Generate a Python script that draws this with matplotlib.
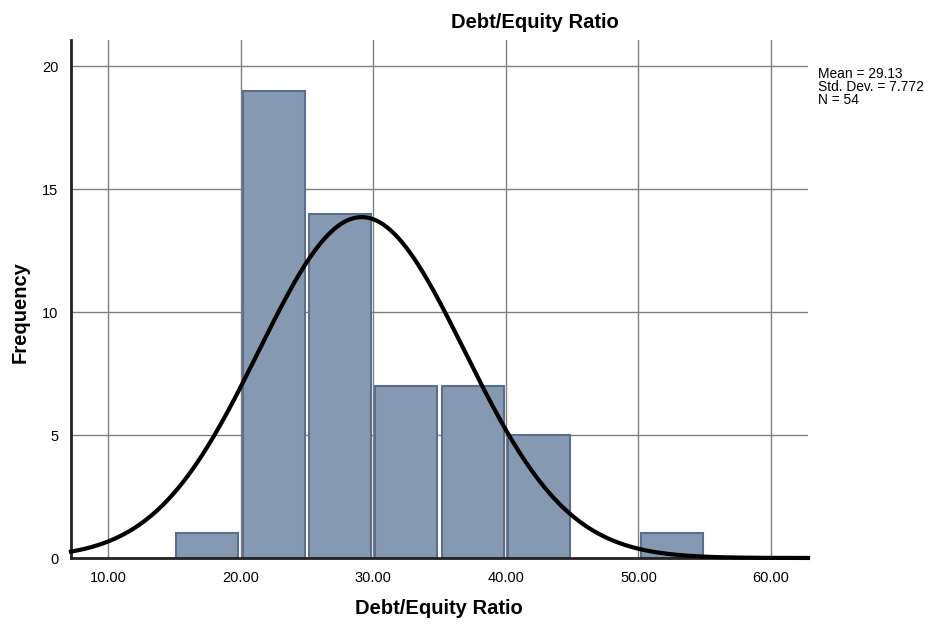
import numpy as np
import matplotlib
matplotlib.use("Agg")
import matplotlib.pyplot as plt

plt.rcParams["font.family"] = ["Liberation Sans", "DejaVu Sans"]

bin_left = [15, 20, 25, 30, 35, 40, 45, 50]
counts = [1, 19, 14, 7, 7, 5, 0, 1]
bin_width = 5
mean, sd, n = 29.13, 7.772, 54
xticks = [10, 20, 30, 40, 50, 60]
yticks = [0, 5, 10, 15, 20]

fig = plt.figure(figsize=(9.29, 6.28), dpi=100)
ax = fig.add_axes([71/929, 70/628, (808-71)/929, (558-40)/628])
ax.set_xlim(7.21, 62.79)
ax.set_ylim(0, 21.06)

for v in xticks:
    ax.axvline(v, color="#808080", lw=1.0, zorder=0)
for v in yticks[1:]:
    ax.axhline(v, color="#808080", lw=1.0, zorder=0)

for l, c in zip(bin_left, counts):
    if c > 0:
        ax.bar(l + 0.16, c, width=bin_width - 0.32, align="edge",
               color="#8599b3", edgecolor="#5b6f8c", linewidth=1.5, zorder=2)

xs = np.linspace(7.21, 62.79, 600)
ys = n * bin_width / (sd * np.sqrt(2 * np.pi)) * np.exp(-0.5 * ((xs - mean) / sd) ** 2)
ax.plot(xs, ys, color="black", lw=3, zorder=3, clip_on=False)

ax.set_xticks(xticks)
ax.set_xticklabels([f"{v:.2f}" for v in xticks])
ax.set_yticks(yticks)
ax.tick_params(length=0, labelsize=10.5, pad=9)
for s in ["top", "right"]:
    ax.spines[s].set_visible(False)
for s in ["left", "bottom"]:
    ax.spines[s].set_linewidth(2)
    ax.spines[s].set_color("#222222")

fig.text(439/929, 1 - 609/628, "Debt/Equity Ratio", fontsize=14.5, fontweight="bold",
         ha="center", va="center")
fig.text(20/929, 1 - 312/628, "Frequency", fontsize=14.5, fontweight="bold",
         ha="center", va="center", rotation=90)
fig.text(535/929, 1 - 22/628, "Debt/Equity Ratio", fontsize=14.5, fontweight="bold",
         ha="center", va="center")
fig.text(818/929, 1 - 87/628, f"Mean = {mean}\nStd. Dev. = {sd}\nN = {n}",
         fontsize=9.9, ha="left", va="center", linespacing=0.9)

fig.savefig("out.png", dpi=100)
